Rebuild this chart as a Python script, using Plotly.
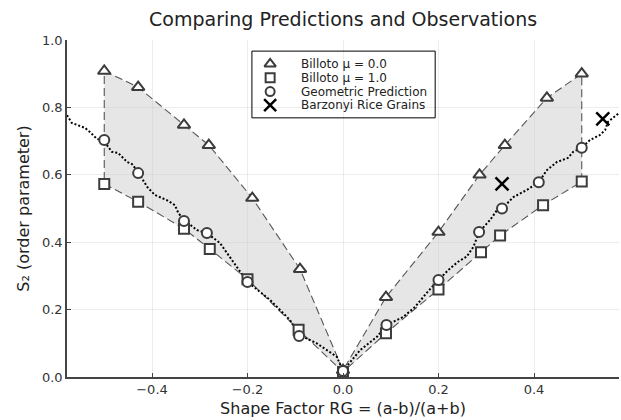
import plotly.graph_objects as go

# Billoto mu = 0.0 (triangles)
tri_x = [-0.5, -0.429, -0.333, -0.281, -0.19, -0.09, 0.0, 0.09, 0.2, 0.286, 0.339, 0.427, 0.5]
tri_y = [0.908, 0.86, 0.748, 0.688, 0.531, 0.32, 0.02, 0.237, 0.43, 0.60, 0.688, 0.828, 0.90]

# Billoto mu = 1.0 (squares)
sq_x = [-0.5, -0.429, -0.333, -0.279, -0.2, -0.093, 0.0, 0.09, 0.2, 0.289, 0.329, 0.419, 0.5]
sq_y = [0.573, 0.52, 0.44, 0.38, 0.29, 0.14, 0.015, 0.13, 0.26, 0.37, 0.42, 0.51, 0.58]

# Geometric prediction (circles)
circ_x = [-0.5, -0.429, -0.333, -0.285, -0.2, -0.092, 0.0, 0.091, 0.2, 0.285, 0.333, 0.41, 0.5]
circ_y = [0.703, 0.605, 0.463, 0.427, 0.282, 0.122, 0.018, 0.154, 0.288, 0.43, 0.50, 0.578, 0.68]

# Geometric prediction continuous curve (dotted)
curve_x = [-0.578, -0.568, -0.54, -0.53, -0.515, -0.502, -0.484, -0.471, -0.452, -0.442,
           -0.429, -0.41, -0.394, -0.369, -0.352, -0.345, -0.333, -0.306, -0.285, -0.258,
           -0.2, -0.153, -0.111, -0.092, -0.055, -0.013, 0.0, 0.036, 0.071, 0.091,
           0.126, 0.151, 0.175, 0.2, 0.224, 0.241, 0.259, 0.273, 0.285, 0.308,
           0.325, 0.333, 0.357, 0.385, 0.41, 0.427, 0.448, 0.471, 0.482, 0.5,
           0.517, 0.538, 0.549, 0.555, 0.578]
curve_y = [0.777, 0.754, 0.739, 0.727, 0.706, 0.703, 0.668, 0.665, 0.638, 0.632,
           0.608, 0.564, 0.54, 0.525, 0.51, 0.487, 0.466, 0.436, 0.427, 0.398,
           0.282, 0.229, 0.169, 0.125, 0.10, 0.06, 0.018, 0.08, 0.119, 0.154,
           0.178, 0.208, 0.249, 0.288, 0.322, 0.342, 0.357, 0.386, 0.43, 0.466,
           0.50, 0.50, 0.534, 0.555, 0.578, 0.614, 0.638, 0.65, 0.668, 0.68,
           0.703, 0.718, 0.733, 0.757, 0.783]

# Barzonyi rice grains (observations)
obs_x = [0.333, 0.544]
obs_y = [0.573, 0.766]

names = ["Billoto μ = 0.0", "Billoto μ = 1.0", "Geometric Prediction", "Barzonyi Rice Grains"]

dark = "#3c3c3c"
marker_styles = [
    dict(symbol="triangle-up", size=11, color="white", line=dict(width=2, color=dark)),
    dict(symbol="square", size=10, color="white", line=dict(width=2, color=dark)),
    dict(symbol="circle", size=10, color="white", line=dict(width=2, color=dark)),
    dict(symbol="x-thin-open", size=13, color="black", line=dict(width=2.5, color="black")),
]

fig = go.Figure()

# shaded band between mu=0 and mu=1
band_x = tri_x + sq_x[::-1] + [tri_x[0]]
band_y = tri_y + sq_y[::-1] + [tri_y[0]]
fig.add_trace(go.Scatter(x=band_x, y=band_y, mode="lines", fill="toself",
                         fillcolor="rgba(200,200,200,0.45)",
                         line=dict(color="#555555", width=1.1, dash="8px,4px"),
                         showlegend=False, hoverinfo="skip"))

fig.add_trace(go.Scatter(x=curve_x, y=curve_y, mode="lines",
                         line=dict(color="black", width=2, dash="2px,2px"),
                         showlegend=False, hoverinfo="skip"))

for xs, ys, nm, ms in zip([tri_x, sq_x, circ_x, obs_x], [tri_y, sq_y, circ_y, obs_y],
                          names, marker_styles):
    fig.add_trace(go.Scatter(x=xs, y=ys, mode="markers", name=nm, showlegend=False,
                             marker=ms))

axis_common = dict(showgrid=True, gridcolor="rgba(0,0,0,0.07)", gridwidth=1,
                   zeroline=False, showline=True, linecolor="#444444", linewidth=1.5,
                   ticks="inside", ticklen=4, tickcolor="#444444",
                   tickfont=dict(size=13, color="#333333", family="DejaVu Sans"),
                   mirror=False)

# custom compact legend (box + key markers on a hidden overlay axis + labels)
lg_x0, lg_x1, lg_y0, lg_y1 = 0.335, 0.667, 0.769, 0.967
key_x = 0.368
text_x = 0.421
row_y = [0.929, 0.888, 0.847, 0.807]
fig.add_shape(type="rect", xref="paper", yref="paper", x0=lg_x0, x1=lg_x1, y0=lg_y0, y1=lg_y1,
              line=dict(color="black", width=1), fillcolor="white", layer="between")
for nm, ms, ry in zip(names, marker_styles, row_y):
    key_ms = dict(ms)
    key_ms["size"] = ms["size"] - 1
    fig.add_trace(go.Scatter(x=[key_x], y=[ry], xaxis="x2", yaxis="y2", mode="markers",
                             marker=key_ms, showlegend=False, hoverinfo="skip"))
    fig.add_annotation(xref="paper", yref="paper", x=text_x, y=ry, text=nm,
                       showarrow=False, xanchor="left", yanchor="middle",
                       font=dict(size=12, color="#222222", family="DejaVu Sans"))

fig.update_layout(
    width=621, height=420,
    margin=dict(l=67, r=2, t=40, b=43),
    paper_bgcolor="white", plot_bgcolor="white",
    font=dict(family="DejaVu Sans", color="#222222"),
    title=dict(text="Comparing Predictions and Observations", x=0.5525, xanchor="center",
               y=0.955, yanchor="middle", font=dict(size=19, color="#222222")),
    xaxis=dict(range=[-0.578, 0.578], tickvals=[-0.4, -0.2, 0.0, 0.2, 0.4],
               tickformat=".1f",
               title=dict(text="Shape Factor RG = (a-b)/(a+b)", standoff=6,
                          font=dict(size=16, color="#222222")),
               **axis_common),
    yaxis=dict(range=[0, 1.0], tickvals=[0.0, 0.2, 0.4, 0.6, 0.8, 1.0],
               tickformat=".1f",
               title=dict(text="S₂ (order parameter)", standoff=8,
                          font=dict(size=16, color="#222222")),
               **axis_common),
    xaxis2=dict(overlaying="x", range=[0, 1], visible=False, fixedrange=True),
    yaxis2=dict(overlaying="y", range=[0, 1], visible=False, fixedrange=True),
    showlegend=False,
)

fig.write_html("out.html")
